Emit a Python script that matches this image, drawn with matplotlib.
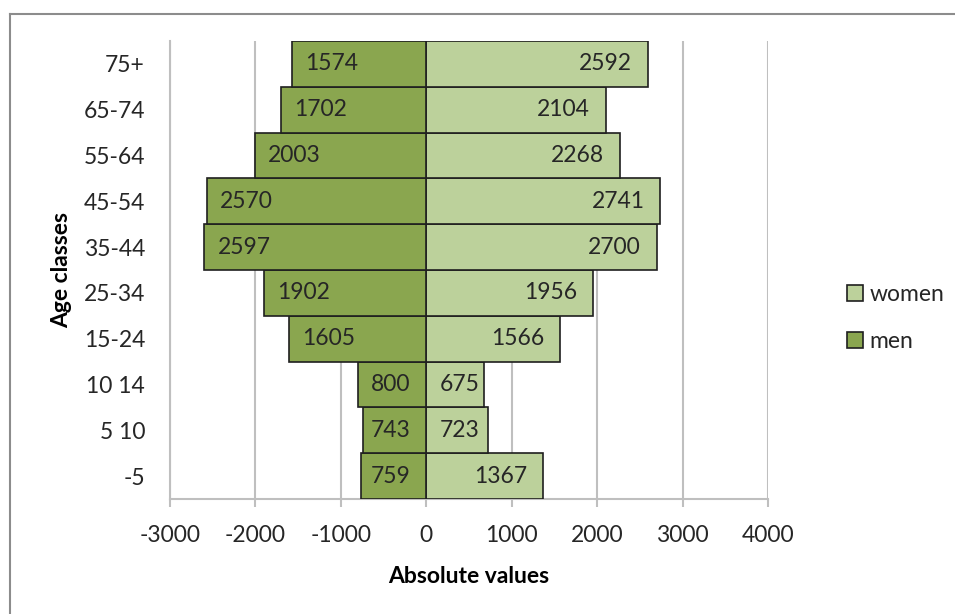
import matplotlib
matplotlib.use("Agg")
import matplotlib.pyplot as plt
from matplotlib.lines import Line2D

plt.rcParams['font.family'] = ['Lato', 'DejaVu Sans']

age_classes = ["-5", "5 10", "10 14", "15-24", "25-34", "35-44", "45-54", "55-64", "65-74", "75+"]
men = [759, 743, 800, 1605, 1902, 2597, 2570, 2003, 1702, 1574]
women = [1367, 723, 675, 1566, 1956, 2700, 2741, 2268, 2104, 2592]
x_ticks = [-3000, -2000, -1000, 0, 1000, 2000, 3000, 4000]

men_color = "#8aa64f"
women_color = "#bcd19b"
edge_color = "#1f1f1f"
grid_color = "#bfbfbf"
text_color = "#262626"

fig = plt.figure(figsize=(9.55, 6.14), dpi=100)
W, H = 955, 614
ax = fig.add_axes([170 / W, 1 - 499 / H, (768 - 170) / W, (499 - 41) / H])

# Chart area frame (left and top edges inside the canvas)
fx, fy = 9.5 / W, 1 - 13.5 / H
fig.lines.append(Line2D([fx, fx], [0, fy], transform=fig.transFigure,
                        color="#8c8c8c", linewidth=1.5))
fig.lines.append(Line2D([fx, 1], [fy, fy], transform=fig.transFigure,
                        color="#8c8c8c", linewidth=1.5))

y = list(range(len(age_classes)))
neg_men = [-v for v in men]
ax.barh(y, women, height=1.0, color=women_color, edgecolor=edge_color,
        linewidth=1.2, label="women", zorder=3)
ax.barh(y, neg_men, height=1.0, color=men_color, edgecolor=edge_color,
        linewidth=1.2, label="men", zorder=3)

ax.set_xlim(-3000, 4000)
ax.set_ylim(-0.5, len(age_classes) - 0.5)

fs = 16.5
end_pad = 16   # gap between bar end and label (pixels)
base_pad = 13  # minimum gap from the zero line (pixels)
renderer = fig.canvas.get_renderer()
px_per_unit = ax.transData.transform((1000, 0))[0] - ax.transData.transform((0, 0))[0]
px_per_unit /= 1000.0

# Value labels at the inside end of each bar, kept clear of the zero line
for yi, v in zip(y, women):
    t = ax.annotate(f"{v}", xy=(v, yi), xytext=(-end_pad, 0), textcoords="offset pixels",
                    ha="right", va="center", fontsize=fs, color=text_color, zorder=5)
    tw = t.get_window_extent(renderer).width
    if v * px_per_unit - end_pad - tw < base_pad:
        t.xy = (0, yi)
        t.set_position((base_pad, 0))
        t.set_ha("left")
for yi, v in zip(y, men):
    t = ax.annotate(f"{v}", xy=(-v, yi), xytext=(base_pad, 0), textcoords="offset pixels",
                    ha="left", va="center", fontsize=fs, color=text_color, zorder=5)
    tw = t.get_window_extent(renderer).width
    if v * px_per_unit - base_pad - tw < end_pad:
        t.xy = (0, yi)
        t.set_position((-end_pad, 0))
        t.set_ha("right")

ax.set_xticks(x_ticks)
ax.set_xticklabels([str(t) for t in x_ticks])
ax.set_yticks(y)
ax.set_yticklabels(age_classes)

ax.grid(axis="x", color=grid_color, linewidth=1.5, zorder=0)
ax.set_axisbelow(True)
for side in ["top", "right"]:
    ax.spines[side].set_visible(False)
for side in ["left", "bottom"]:
    ax.spines[side].set_color(grid_color)
    ax.spines[side].set_linewidth(1.5)

ax.tick_params(axis="x", length=6, width=1.5, color=grid_color, labelsize=fs,
               labelcolor=text_color, pad=13)
ax.tick_params(axis="y", length=0, labelsize=fs, labelcolor=text_color, pad=18)

ax.set_xlabel("Absolute values", fontsize=fs, fontweight="bold", color="#000000", labelpad=14)
ax.set_ylabel("Age classes", fontsize=fs, fontweight="bold", color="#000000", labelpad=8)

handles, labels = ax.get_legend_handles_labels()
leg = fig.legend(handles, labels, loc="center left", bbox_to_anchor=(826 / W, 1 - 318 / H),
                 frameon=False, fontsize=fs, handlelength=0.7, handleheight=0.7,
                 handletextpad=0.3, labelspacing=1.1, labelcolor=text_color)

fig.savefig("out.png", dpi=100, facecolor="white")
